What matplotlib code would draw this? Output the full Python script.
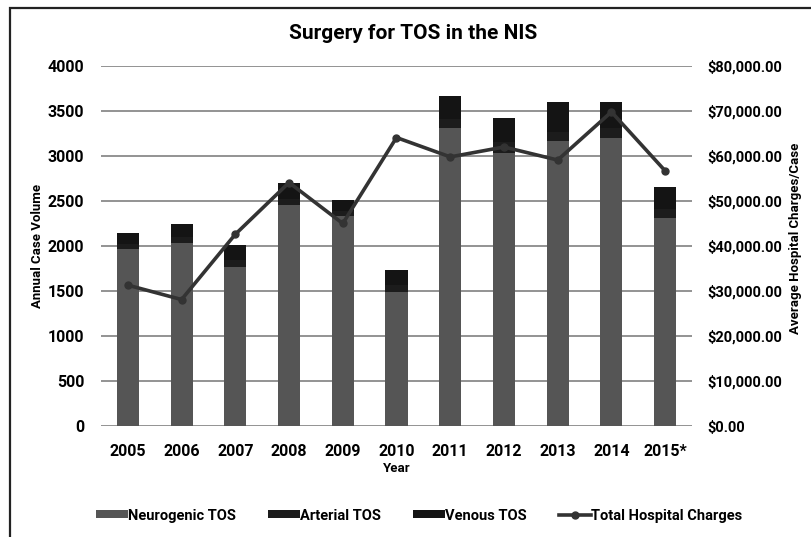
import numpy as np
import matplotlib.pyplot as plt
from matplotlib.patches import Rectangle
from matplotlib.ticker import FuncFormatter

plt.rcParams['font.family'] = ['Roboto', 'DejaVu Sans']
plt.rcParams['font.weight'] = 'bold'

years = ["2005", "2006", "2007", "2008", "2009", "2010",
         "2011", "2012", "2013", "2014", "2015*"]
neurogenic = [1967, 2037, 1763, 2456, 2337, 1492, 3314, 3030, 3167, 3197, 2308]
arterial = [60, 60, 80, 70, 50, 70, 97, 120, 103, 110, 100]
venous = [121, 144, 165, 171, 121, 171, 252, 276, 333, 296, 244]
charges = [31300, 28100, 42600, 54100, 45000, 64100,
           59800, 62000, 59100, 69800, 56700]

c_neuro = "#555555"
c_art = "#1c1c1c"
c_ven = "#141414"
c_line = "#333333"

fig = plt.figure(figsize=(8.11, 5.37), dpi=100)
ax = fig.add_axes([0.1245, 0.2067, 0.7288, 0.6704])

x = np.arange(len(years))
w = 0.41
b1 = ax.bar(x, neurogenic, w, color=c_neuro, label="Neurogenic TOS", zorder=2)
b2 = ax.bar(x, arterial, w, bottom=neurogenic, color=c_art,
            label="Arterial TOS", zorder=2)
bottom2 = np.array(neurogenic) + np.array(arterial)
b3 = ax.bar(x, venous, w, bottom=bottom2, color=c_ven,
            label="Venous TOS", zorder=2)

ax.set_xlim(-0.5, len(years) - 0.5)
ax.set_ylim(0, 4000)
ax.set_yticks(np.arange(0, 4001, 500))
ax.yaxis.grid(True, color="#8a8a8a", linewidth=1.3, zorder=0)
ax.set_axisbelow(True)
for s in ax.spines.values():
    s.set_visible(False)
ax.tick_params(length=0, labelsize=11.5)
ax.tick_params(axis="x", pad=13)
ax.tick_params(axis="y", pad=12)
ax.set_xticks(x)
ax.set_xticklabels(years, fontweight="bold")
for t in ax.get_yticklabels():
    t.set_fontweight("bold")
ax.set_xlabel("Year", fontsize=9.5, fontweight="bold", labelpad=2)
ax.set_ylabel("Annual Case Volume", fontsize=9.5, fontweight="bold")
ax.yaxis.set_label_coords(-0.097, 0.5)

ax2 = ax.twinx()
ax2.set_ylim(0, 80000)
ax2.set_yticks(np.arange(0, 80001, 10000))
ax2.yaxis.set_major_formatter(FuncFormatter(lambda v, p: f"${v:,.2f}"))
for s in ax2.spines.values():
    s.set_visible(False)
ax2.tick_params(length=0, labelsize=10.5, pad=11)
for t in ax2.get_yticklabels():
    t.set_fontweight("bold")
l1, = ax2.plot(x, charges, color=c_line, linewidth=2.6, marker="o",
               markersize=5, label="Total Hospital Charges", zorder=3)
ax2.set_ylabel("Average Hospital Charges/Case", fontsize=9.5, fontweight="bold")
ax2.yaxis.set_label_coords(1.164, 0.52)

fig.text(0.509, 0.9385, "Surgery for TOS in the NIS", ha="center", va="center",
         fontsize=15, fontweight="bold")

fig.legend(handles=[b1, b2, b3, l1], loc="center", bbox_to_anchor=(0.517, 0.04),
           ncol=4, frameon=False, fontsize=10.5, handlelength=2.2,
           handleheight=0.5, handletextpad=0.0, columnspacing=2.2)

frame = Rectangle((10 / 811, -0.1), 1.2, 1 - 8 / 537 + 0.1,
                  transform=fig.transFigure, fill=False,
                  edgecolor="#222222", linewidth=1.6)
fig.patches.append(frame)

fig.savefig("out.png", dpi=100)
